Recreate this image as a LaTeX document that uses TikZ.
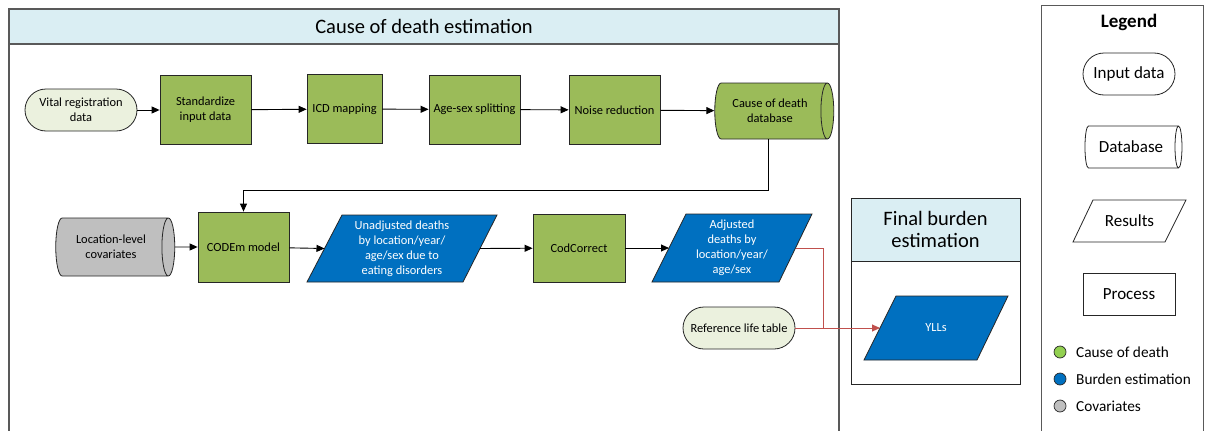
\documentclass[tikz,border=0pt]{standalone}
\usepackage{fontspec}
\setmainfont{Carlito}
\usetikzlibrary{shapes.geometric,arrows.meta}
\definecolor{procgreen}{HTML}{9BBB59}
\definecolor{inputgreen}{HTML}{EBF1DE}
\definecolor{resblue}{HTML}{0070C0}
\definecolor{covgray}{HTML}{BFBFBF}
\definecolor{headblue}{HTML}{DAEEF3}
\definecolor{linkred}{HTML}{C0504D}
\definecolor{legendgreen}{HTML}{92D050}
\definecolor{framegray}{HTML}{595959}
\tikzset{
  box/.style={draw=black!85, line width=0.8pt, align=center, font=\fontsize{12.4}{15}\selectfont, inner sep=1pt},
  process/.style={box, fill=procgreen, minimum width=91pt, minimum height=69pt},
  inputdata/.style={box, fill=inputgreen, rounded corners=21pt, minimum width=112pt, minimum height=42pt},
  db/.style={box, cylinder, shape aspect=0.5, cylinder uses custom fill, cylinder body fill=#1, cylinder end fill=#1, minimum height=119pt, minimum width=57pt},
  para/.style={draw=black!85, line width=0.8pt, fill=resblue},
  paratext/.style={text=white, align=center, font=\fontsize{12.4}{15}\selectfont, inner sep=0pt},
  flow/.style={draw=black, line width=0.9pt, -{Triangle[length=8pt,width=7pt]}},
  redflow/.style={draw=linkred, line width=0.9pt},
  frame/.style={draw=framegray, line width=1.2pt},
  legshape/.style={draw=black!85, line width=0.8pt, align=center, font=\fontsize{17}{20}\selectfont, minimum width=92pt, minimum height=42pt, inner sep=1pt},
  legdot/.style={circle, draw=black!85, line width=0.7pt, minimum size=12pt, inner sep=0pt},
  leglabel/.style={anchor=west, font=\fontsize{15.3}{18}\selectfont, inner sep=0pt},
}
\begin{document}
\begin{tikzpicture}[x=1pt,y=-1pt]
\useasboundingbox (0,0) rectangle (1205,431);
\fill[white] (0,0) rectangle (1205,431);

% main frame
\draw[frame, fill=headblue] (9,9) rectangle (839,44);
\draw[frame] (9,44) -- (9,440) (839,44) -- (839,440);
\node[font=\fontsize{20.5}{24}\selectfont] (title) at (424,26.5) {Cause of death estimation};

% row 1
\node[inputdata] (vr) at (81,110) {Vital registration\\data};
\node[process] (std) at (205.5,110) {Standardize\\input data};
\node[process, minimum width=75pt] (icd) at (344.5,109) {ICD mapping};
\node[process] (ags) at (474.5,109.5) {Age-sex splitting};
\node[process] (noise) at (614.5,110) {Noise reduction};
\node[db=procgreen, minimum width=56pt] (cdb) at (770,111) {Cause of death\\database};

\draw[flow] (vr) -- (std);
\draw[flow] (std) -- (icd);
\draw[flow] (icd) -- (ags);
\draw[flow] (ags) -- (noise);
\draw[flow] (noise) -- (cdb);

% row 2
\node[db=covgray, minimum width=58pt] (cov) at (111,247) {Location-level\\covariates};
\node[process, minimum height=70pt] (codem) at (243.5,247) {CODEm model};
\draw[para] (342,215) -- (497,215) -- (463,282) -- (307,282) -- cycle;
\node[paratext] (unadj) at (402,248.5) {Unadjusted deaths\\by location/year/\\age/sex due to\\eating disorders};
\coordinate (unadjW) at (324.5,248.5);
\coordinate (unadjE) at (480,248.5);
\node[process, minimum width=92pt, minimum height=68pt] (codc) at (579,248) {CodCorrect};
\draw[para] (686,214) -- (812,214) -- (779,282) -- (652,282) -- cycle;
\node[paratext] (adj) at (732,248) {Adjusted\\deaths by\\location/year/\\age/sex};
\coordinate (adjW) at (669,248);
\coordinate (adjE) at (796,248);
\node[inputdata] (ref) at (739,328) {Reference life table};

\coordinate (bend) at (768,190);
\draw[flow] (cdb.south -| bend) -- (bend) -| (codem.north);
\draw[flow] (cov) -- (codem);
\draw[flow] (codem) -- (unadjW);
\draw[flow] (unadjE) -- (codc);
\draw[flow] (codc) -- (adjW);

% final burden
\draw[draw=black!85, line width=0.9pt, fill=headblue] (851,198) rectangle (1020,261);
\draw[draw=black!85, line width=0.9pt] (851,261) rectangle (1020,384);
\node[align=center, font=\fontsize{20.5}{22}\selectfont] (fbtitle) at (935.5,229.5) {Final burden\\estimation};
\draw[para] (896,296) -- (1008,296) -- (977,360) -- (864,360) -- cycle;
\node[paratext] (yll) at (936,328) {YLLs};
\coordinate (yllW) at (880,328);
\coordinate (junc) at (823,328);

\draw[redflow] (adjE) -| (junc);
\draw[redflow, -{Triangle[length=8pt,width=7pt]}] (ref.east) -- (yllW);

% legend
\draw[frame, line width=1pt] (1041,5) -- (1203,5) (1041,5) -- (1041,440) (1203,5) -- (1203,440);
\node[font=\bfseries\fontsize{19}{22}\selectfont] (legtitle) at (1129,22) {Legend};
\node[legshape, rounded corners=21pt] (lin) at (1129,74) {Input data};
\node[legshape, cylinder, shape aspect=0.5, minimum height=97pt, minimum width=42pt] (ldb) at (1131,147) {Database};
\draw[draw=black!85, line width=0.8pt] (1093,200) -- (1186,200) -- (1165,242) -- (1073,242) -- cycle;
\node[font=\fontsize{17}{20}\selectfont] (lres) at (1129.5,221) {Results};
\node[legshape] (lproc) at (1129,294) {Process};
\node[legdot, fill=legendgreen] (d1) at (1060,352) {};
\node[leglabel] (l1) at (1076,352) {Cause of death};
\node[legdot, fill=resblue] (d2) at (1060,379) {};
\node[leglabel] (l2) at (1076,379) {Burden estimation};
\node[legdot, fill=covgray] (d3) at (1060,406) {};
\node[leglabel] (l3) at (1076,406) {Covariates};
\end{tikzpicture}
\end{document}
